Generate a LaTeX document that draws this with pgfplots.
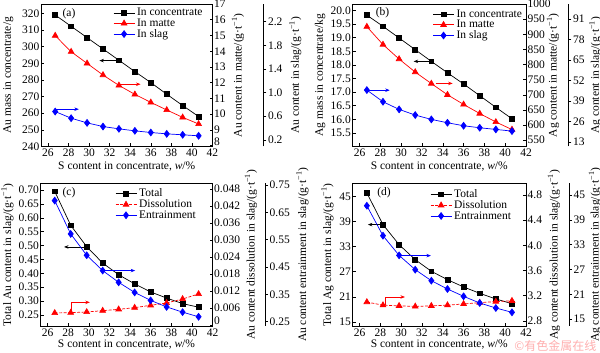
\documentclass[border=0pt]{standalone}
\usepackage{pgfplots}
\usepackage{pgfplotstable}
\pgfplotsset{compat=1.18}
\usepackage{fontspec}
\setmainfont{Liberation Serif}
\newfontfamily\cjk{Noto Sans CJK SC}
\usetikzlibrary{arrows.meta}

\newcommand{\fs}{\fontsize{11.5}{13}\selectfont}
\newcommand{\gt}{(g·t\textsuperscript{−1})}

\pgfplotstableread{
x c m s
26.7 319.0 14.99 0.679
28.25 312.2 13.97 0.566
29.8 305.4 13.23 0.487
31.35 298.6 12.49 0.425
32.9 291.8 11.83 0.386
34.45 285.0 11.26 0.352
36.0 278.4 10.75 0.324
37.55 271.4 10.27 0.301
39.1 264.6 9.80 0.285
40.65 258.0 9.38 0.268
}\tA
\pgfplotstableread{
x c m s
26.7 19.83 925 45.85
28.25 19.42 866 38.43
29.8 18.99 818 33.56
31.35 18.56 775 29.96
32.9 18.13 737 27.20
34.45 17.71 700 25.08
36.0 17.30 668 23.17
37.55 16.87 638 21.90
39.1 16.44 610 20.84
40.65 16.02 585 19.78
}\tB
\pgfplotstableread{
x t d e
26.7 0.695 0.00425 0.693
28.25 0.573 0.00436 0.571
29.8 0.496 0.00460 0.493
31.35 0.437 0.00507 0.437
32.9 0.395 0.00554 0.394
34.45 0.362 0.00613 0.357
36.0 0.333 0.00696 0.328
37.55 0.311 0.00778 0.304
39.1 0.291 0.00920 0.285
40.65 0.278 0.01097 0.268
}\tC
\pgfplotstableread{
x t d e
26.7 45.80 3.100 42.42
28.25 38.24 3.050 35.16
29.8 33.46 3.040 30.40
31.35 29.88 3.030 26.94
32.9 27.10 3.040 24.27
34.45 25.11 3.050 22.26
36.0 23.36 3.070 20.48
37.55 21.85 3.090 18.87
39.1 20.50 3.107 17.66
40.65 19.38 3.120 16.61
}\tD

\pgfplotsset{
  pbase/.style={scale only axis, height=142.5pt, anchor=south west,
    xmin=25.32, xmax=42, clip=false, scaled ticks=false,
    tick label style={font=\fs}, label style={font=\fs},
    tick align=inside, major tick length=3pt,
    tick style={black, line width=0.5pt},
    axis line style={black, line width=0.6pt},
    yticklabel style={inner sep=1.5pt}, xticklabel style={inner sep=2.5pt}},
  pmain/.style={pbase,
    xtick={26,28,30,32,34,36,38,40,42},
    xticklabels={26,28,30,32,34,36,38,40,42},
    xtick pos=left, ytick pos=left,
    xlabel={S content in concentrate, \textit{w}/\%},
    legend cell align=left,
    legend image code/.code={\draw[mark repeat=2,mark phase=2,##1] plot coordinates {(0pt,0pt) (10.5pt,0pt) (21pt,0pt)};}},
  pright/.style={pbase, axis y line*=right, axis x line=none},
  pdata/.style={pbase, hide axis},
  pthird/.style={scale only axis, width=1pt, height=142.5pt, anchor=south west,
    xmin=0, xmax=1, axis y line*=right, axis x line=none, scaled ticks=false,
    tick label style={font=\fs}, label style={font=\fs},
    tick align=outside, major tick length=3pt,
    tick style={black, line width=0.5pt},
    axis line style={black, line width=0.6pt},
    yticklabel style={inner sep=1.5pt}},
  xl/.style={every axis x label/.style={at={(rel axis cs:0.5,0)}, yshift=#1, anchor=center, font=\fs}},
  yl/.style={every axis y label/.style={at={(rel axis cs:0,0.5)}, xshift=#1, rotate=90, anchor=center, font=\fs}},
  yr/.style={every axis y label/.style={at={(rel axis cs:1,0.5)}, xshift=#1, rotate=90, anchor=center, font=\fs}},
  lk/.style={black, line width=0.7pt, mark=square*, mark size=2.4pt, mark options={solid}},
  lr/.style={red, line width=0.7pt, mark=triangle*, mark size=3.3pt, mark options={solid}},
  lrd/.style={red, line width=0.7pt, dash pattern=on 3pt off 1.5pt, mark=triangle*, mark size=3.3pt, mark options={solid}},
  lb/.style={blue, line width=0.7pt, mark=diamond*, mark size=3.4pt, mark options={solid}},
  lgd/.style={legend style={draw=none, fill=none, at={(rel axis cs:#1)}, anchor=north west,
    font=\fs, inner sep=0pt, row sep=0pt, column sep=1.5pt, nodes={inner sep=0.7pt}}},
  lowlab/.style={extra y ticks={#1}, extra y tick labels={#1},
    extra y tick style={yticklabel style={yshift=3.8pt}}},
}
\tikzset{arr/.style={line width=0.7pt, -{Stealth[length=4.5pt,width=3.5pt]}}}

\begin{document}
\begin{tikzpicture}
\path[use as bounding box] (0,0) rectangle (600pt,353pt);

% ================= (a) =================
\begin{axis}[pmain, at={(41pt,206.5pt)}, width=171.5pt,
  ymin=240, ymax=325.6,
  ytick={240,250,260,270,280,290,300,310,320},
  yticklabels={240,250,260,270,280,290,300,310,320},
  ylabel={Au mass in concentrate/g},
  xl=-20pt, yl=-32.7pt, lgd={0.42,0.975}]
\addplot[lk] table[x=x,y=c] {\tA}; \addlegendentry{In concentrate}
\addlegendimage{lr} \addlegendentry{In matte}
\addlegendimage{lb} \addlegendentry{In slag}
\draw[arr, black] (33.1,291.6) -- (31.0,291.6);
\draw[arr, red] (32.8,277.4) -- (35.0,277.4);
\draw[arr, blue] (26.75,262.4) -- (29.0,262.4);
\end{axis}
\begin{axis}[pright, at={(41pt,206.5pt)}, width=171.5pt,
  ymin=7.95, ymax=17,
  ytick={9,10,11,12,13,14,15,16,17},
  yticklabels={9,10,11,12,13,14,15,16,17},
  lowlab=8,
  ylabel={Au content in matte/\gt}, yr=25.5pt]
\addplot[lr] table[x=x,y=m] {\tA};
\end{axis}
\begin{axis}[pdata, at={(41pt,206.5pt)}, width=171.5pt, ymin=0.087, ymax=2.5]
\addplot[lb] table[x=x,y=s] {\tA};
\end{axis}
\begin{axis}[pthird, at={(262.3pt,206.5pt)}, ymin=0.087, ymax=2.5,
  ytick={0.2,0.6,1.0,1.4,1.8,2.2}, yticklabels={0.2,0.6,1.0,1.4,1.8,2.2},
  ylabel={Au content in slag/\gt}, yr=32pt]
\addplot[draw=none] coordinates {(0.5,1)};
\end{axis}

% ================= (b) =================
\begin{axis}[pmain, at={(352.5pt,206.5pt)}, width=173.5pt,
  ymin=15.0, ymax=20.24,
  ytick={15.5,16.0,16.5,17.0,17.5,18.0,18.5,19.0,19.5,20.0},
  yticklabels={15.5,16.0,16.5,17.0,17.5,18.0,18.5,19.0,19.5,20.0},
  ylabel={Ag mass in concentrate/kg},
  xl=-20pt, yl=-32.5pt, lgd={0.461,0.965}]
\addplot[lk] table[x=x,y=c] {\tB}; \addlegendentry{In concentrate}
\addlegendimage{lr} \addlegendentry{In matte}
\addlegendimage{lb} \addlegendentry{In slag}
\draw[arr, black] (33.1,18.13) -- (31.2,18.13);
\draw[arr, red] (33.3,17.32) -- (34.95,17.32);
\draw[arr, blue] (26.75,17.07) -- (28.9,17.07);
\end{axis}
\begin{axis}[pright, at={(352.5pt,206.5pt)}, width=173.5pt,
  ymin=529, ymax=1000,
  ytick={550,600,650,700,750,800,850,900,950,1000},
  yticklabels={550,600,650,700,750,800,850,900,950,1000},
  ylabel={Ag content in matte/\gt}, yr=27pt]
\addplot[lr] table[x=x,y=m] {\tB};
\end{axis}
\begin{axis}[pdata, at={(352.5pt,206.5pt)}, width=173.5pt, ymin=10, ymax=100.5]
\addplot[lb] table[x=x,y=s] {\tB};
\end{axis}
\begin{axis}[pthird, at={(567.3pt,206.5pt)}, ymin=10, ymax=100.5,
  ytick={13,26,39,52,65,78,91}, yticklabels={13,26,39,52,65,78,91},
  ylabel={Ag content in slag/\gt}, yr=27pt]
\addplot[draw=none] coordinates {(0.5,50)};
\end{axis}

% ================= (c) =================
\begin{axis}[pmain, at={(40.5pt,27pt)}, width=172pt,
  ymin=0.2104, ymax=0.7234,
  ytick={0.25,0.30,0.35,0.40,0.45,0.50,0.55,0.60,0.65,0.70},
  yticklabels={0.25,0.30,0.35,0.40,0.45,0.50,0.55,0.60,0.65,0.70},
  ylabel={Total Au content in slag/\gt},
  xl=-19pt, yl=-33pt, lgd={0.433,0.968}]
\addplot[lk] table[x=x,y=t] {\tC}; \addlegendentry{Total}
\addlegendimage{lrd} \addlegendentry{Dissolution}
\addlegendimage{lb} \addlegendentry{Entrainment}
\draw[arr, black] (29.8,0.495) -- (27.6,0.495);
\draw[arr, blue] (31.35,0.410) -- (34.5,0.410);
\draw[arr, red] (28.35,0.263) -- (28.35,0.2956) -- (30.1,0.2956);
\end{axis}
\begin{axis}[pright, at={(40.5pt,27pt)}, width=172pt,
  ymin=-0.00035, ymax=0.0500,
  ytick={0.006,0.012,0.018,0.024,0.030,0.036,0.042,0.048},
  yticklabels={0.006,0.012,0.018,0.024,0.030,0.036,0.042,0.048},
  lowlab=0,
  ylabel={Au content dissolution in slag/\gt}, yr=38.5pt]
\addplot[lrd] table[x=x,y=d] {\tC};
\end{axis}
\begin{axis}[pdata, at={(40.5pt,27pt)}, width=172pt, ymin=0.2343, ymax=0.7555]
\addplot[lb] table[x=x,y=e] {\tC};
\end{axis}
\begin{axis}[pthird, at={(264pt,27pt)}, ymin=0.2343, ymax=0.7555,
  ytick={0.25,0.35,0.45,0.55,0.65,0.75}, yticklabels={0.25,0.35,0.45,0.55,0.65,0.75},
  ylabel={Au content entrainment in slag/\gt}, yr=37.5pt]
\addplot[draw=none] coordinates {(0.5,0.5)};
\end{axis}

% ================= (d) =================
\begin{axis}[pmain, at={(352.5pt,27pt)}, width=173.5pt,
  ymin=14.05, ymax=48.05,
  ytick={15,21,27,33,39,45}, yticklabels={15,21,27,33,39,45},
  ylabel={Total Ag content in slag/\gt},
  xl=-19pt, yl=-25pt, lgd={0.447,0.963}]
\addplot[lk] table[x=x,y=t] {\tD}; \addlegendentry{Total}
\addlegendimage{lrd} \addlegendentry{Dissolution}
\addlegendimage{lb} \addlegendentry{Entrainment}
\draw[arr, black] (28.16,38.24) -- (26.8,38.24);
\draw[arr, blue] (29.8,30.84) -- (32.86,30.84);
\draw[arr, red] (28.48,19.14) -- (28.48,20.97) -- (30.36,20.97);
\end{axis}
\begin{axis}[pright, at={(352.5pt,27pt)}, width=173.5pt,
  ymin=2.72, ymax=4.98,
  ytick={2.8,3.2,3.6,4.0,4.4,4.8}, yticklabels={2.8,3.2,3.6,4.0,4.4,4.8},
  ylabel={Ag content dissolution in slag/\gt}, yr=28pt]
\addplot[lrd] table[x=x,y=d] {\tD};
\end{axis}
\begin{axis}[pdata, at={(352.5pt,27pt)}, width=173.5pt, ymin=13.3, ymax=47.8]
\addplot[lb] table[x=x,y=e] {\tD};
\end{axis}
\begin{axis}[pthird, at={(568pt,27pt)}, ymin=13.3, ymax=47.8,
  ytick={15,21,27,33,39,45}, yticklabels={15,21,27,33,39,45},
  ylabel={Ag content entrainment in slag/\gt}, yr=26pt]
\addplot[draw=none] coordinates {(0.5,30)};
\end{axis}

% panel labels
\node[font=\fs] at (69pt,339.7pt) {(a)};
\node[font=\fs] at (382.5pt,340.3pt) {(b)};
\node[font=\fs] at (69pt,160pt) {(c)};
\node[font=\fs] at (384pt,160pt) {(d)};
% watermark
\node[text=red!45, opacity=0.7, font=\fontsize{12}{14}\cjk, anchor=east] at (600pt,7pt) {©有色金属在线};
\end{tikzpicture}
\end{document}
